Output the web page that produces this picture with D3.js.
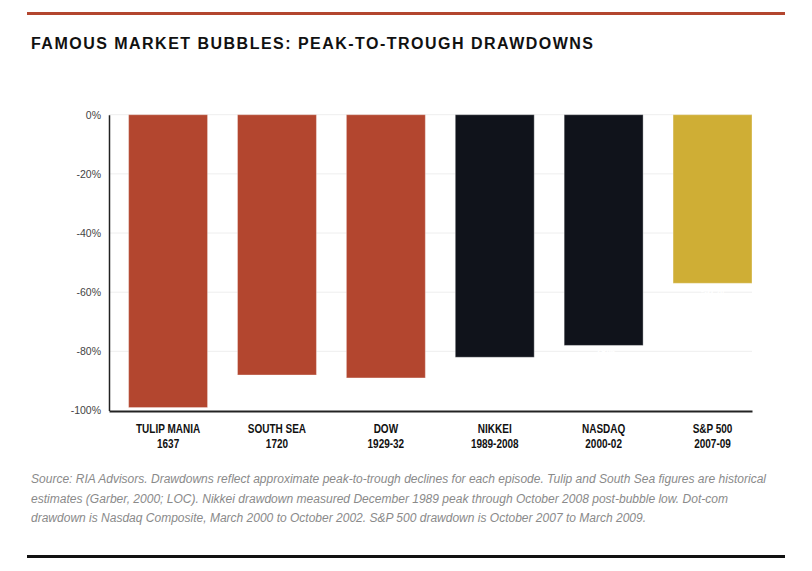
<!DOCTYPE html>
<html>
<head>
<meta charset="utf-8">
<script src="https://cdn.jsdelivr.net/npm/d3@7"></script>
<style>
  body { margin: 0; background: #fff; }
  svg { display: block; }
</style>
</head>
<body>
<div id="chart"></div>
<script>
// data
const names = ["TULIP MANIA", "SOUTH SEA", "DOW", "NIKKEI", "NASDAQ", "S&P 500"];
const periods = ["1637", "1720", "1929-32", "1989-2008", "2000-02", "2007-09"];
const drawdowns = [-99, -88, -89, -82, -78, -57];
const barColors = ["#b3462f", "#b3462f", "#b3462f", "#10131b", "#10131b", "#cfae35"];
const yTicks = [0, -20, -40, -60, -80, -100];
const notes = [
  "Source: RIA Advisors. Drawdowns reflect approximate peak-to-trough declines for each episode. Tulip and South Sea figures are historical",
  "estimates (Garber, 2000; LOC). Nikkei drawdown measured December 1989 peak through October 2008 post-bubble low. Dot-com",
  "drawdown is Nasdaq Composite, March 2000 to October 2002. S&P 500 drawdown is October 2007 to March 2009."
];
const noteWidths = [735, 697, 615];

const W = 812, H = 571;
const svg = d3.select("#chart").append("svg").attr("width", W).attr("height", H);

// top rule + title
svg.append("rect").attr("x", 27).attr("y", 12).attr("width", 758).attr("height", 3).attr("fill", "#b3462f");
svg.append("text")
  .attr("x", 31).attr("y", 49)
  .attr("font-family", "'Liberation Sans', Arial, sans-serif")
  .attr("font-weight", "bold").attr("font-size", 16)
  .attr("textLength", 562).attr("lengthAdjust", "spacing")
  .attr("fill", "#111")
  .text("FAMOUS MARKET BUBBLES: PEAK-TO-TROUGH DRAWDOWNS");

// scales
const x = d3.scaleBand().domain(names).range([109, 752]).paddingInner(0.275).paddingOuter(0.09).align(1);
const y = d3.scaleLinear().domain([-100, 0]).range([410.5, 114.7]);

// grid
svg.append("g").selectAll("line").data(yTicks.filter(d => d !== -100)).enter().append("line")
  .attr("x1", 109).attr("x2", 752)
  .attr("y1", d => y(d)).attr("y2", d => y(d))
  .attr("stroke", "#eeeeee").attr("stroke-width", 1);

// y axis
const yAxis = svg.append("g").attr("transform", "translate(109,0)")
  .call(d3.axisLeft(y).tickValues(yTicks).tickSize(0).tickPadding(8).tickFormat(d => d + "%"));
yAxis.select(".domain").attr("stroke", "#222").attr("stroke-width", 1.5);
yAxis.selectAll("text").attr("font-family", "'Liberation Sans', Arial, sans-serif").attr("font-size", 10.5).attr("fill", "#444");

// bars
const bars = names.map((n, i) => ({ name: n, period: periods[i], value: drawdowns[i], color: barColors[i] }));
svg.append("g").selectAll("rect").data(bars).enter().append("rect")
  .attr("x", d => x(d.name))
  .attr("y", y(0))
  .attr("width", x.bandwidth())
  .attr("height", d => y(d.value) - y(0))
  .attr("fill", d => d.color)
  .attr("stroke", "rgba(255,255,255,0.35)").attr("stroke-width", 1);

// value labels (white, as in the original)
svg.append("g").selectAll("text").data(bars).enter().append("text")
  .attr("x", d => x(d.name) + x.bandwidth() / 2)
  .attr("y", d => y(d.value) + 11)
  .attr("text-anchor", "middle")
  .attr("font-family", "'Liberation Sans', Arial, sans-serif")
  .attr("font-size", 10).attr("font-weight", "bold")
  .attr("fill", "#fff")
  .text(d => d.value + "%");

// x axis
const xAxis = svg.append("g").attr("transform", "translate(0,411)")
  .call(d3.axisBottom(x).tickSize(0).tickFormat(""));
xAxis.select(".domain").attr("stroke", "#222").attr("stroke-width", 2);

// category labels, condensed horizontally
const cats = svg.append("g").selectAll("g").data(bars).enter().append("g")
  .attr("transform", d => `translate(${x(d.name) + x.bandwidth() / 2},0) scale(0.8,1)`);
const catText = cats.append("text")
  .attr("text-anchor", "middle")
  .attr("font-family", "'Liberation Sans', Arial, sans-serif")
  .attr("font-weight", "bold").attr("font-size", 12.5)
  .attr("fill", "#111");
catText.append("tspan").attr("x", 0).attr("y", 433).text(d => d.name);
catText.append("tspan").attr("x", 0).attr("y", 448).text(d => d.period);

// notes
svg.append("g").selectAll("text").data(notes).enter().append("text")
  .attr("x", 31).attr("y", (d, i) => 483 + i * 19.5)
  .attr("font-family", "'Liberation Sans', Arial, sans-serif")
  .attr("font-style", "italic").attr("font-size", 12)
  .attr("textLength", (d, i) => noteWidths[i]).attr("lengthAdjust", "spacingAndGlyphs")
  .attr("fill", "#8a8a8a")
  .text(d => d);

// bottom rule
svg.append("rect").attr("x", 27).attr("y", 555).attr("width", 758).attr("height", 3).attr("fill", "#111");
</script>
</body>
</html>
